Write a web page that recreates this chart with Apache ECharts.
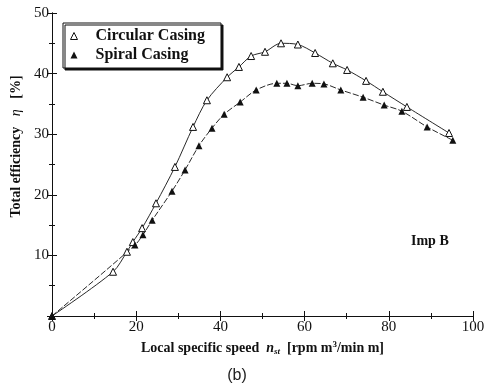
<!DOCTYPE html>
<html>
<head>
<meta charset="utf-8">
<script src="https://cdn.jsdelivr.net/npm/echarts@6/dist/echarts.min.js"></script>
<style>
  html, body { margin: 0; padding: 0; background: #fff; }
  #chart { width: 492px; height: 391px; }
</style>
</head>
<body>
<div id="chart"></div>
<script>
// values
const circularX = [0, 14.5, 17.8, 19.2, 21.4, 24.7, 29.2, 33.5, 36.8, 41.6, 44.4, 47.3, 50.6, 54.4, 58.4, 62.5, 66.7, 70.1, 74.6, 78.6, 84.3, 94.3];
const circularY = [0, 7.3, 10.6, 12.2, 14.5, 18.6, 24.6, 31.2, 35.6, 39.4, 41.1, 42.9, 43.6, 45.0, 44.8, 43.4, 41.7, 40.6, 38.8, 37.0, 34.5, 30.2];
const spiralX = [0, 19.7, 21.6, 23.8, 28.5, 31.6, 34.9, 38.0, 40.9, 44.7, 48.5, 53.4, 55.8, 58.4, 61.8, 64.6, 68.6, 73.9, 78.9, 83.1, 89.1, 95.2];
const spiralY = [0, 11.7, 13.4, 15.8, 20.6, 24.1, 28.1, 31.0, 33.3, 35.3, 37.3, 38.4, 38.4, 38.0, 38.4, 38.3, 37.3, 36.1, 34.8, 33.8, 31.2, 29.0];
const xTicks = [0, 20, 40, 60, 80, 100];
const yTicks = [0, 10, 20, 30, 40, 50];

const SERIF = '"Liberation Serif", "DejaVu Serif", serif';
const INK = '#111';

const pairs = (xs, ys) => xs.map((x, i) => [x, ys[i]]);

const frameAxis = {
  min: 0,
  axisLine: { show: true, lineStyle: { color: INK, width: 1 } },
  axisTick: { show: true, inside: true, length: 5, lineStyle: { color: INK } },
  minorTick: { show: true, splitNumber: 2, length: 3, lineStyle: { color: INK } },
  splitLine: { show: false },
};

const chart = echarts.init(document.getElementById('chart'));
chart.setOption({
  animation: false,
  backgroundColor: '#fff',
  title: [
    {
      text: '(b)',
      left: 232,
      top: 363,
      textAlign: 'center',
      textStyle: { fontFamily: '"Liberation Sans", Arial, sans-serif', fontWeight: 'normal', fontSize: 16, color: '#222' },
    },
    {
      text: 'Imp B',
      left: 406,
      top: 229,
      textStyle: { fontFamily: SERIF, fontWeight: 'bold', fontSize: 14, color: INK },
    },
  ],
  grid: { left: 52, right: 19, top: 13, bottom: 75 },
  legend: {
    orient: 'vertical',
    left: 63,
    top: 23,
    padding: [5, 16, 5, 7],
    itemGap: 3,
    itemWidth: 7,
    itemHeight: 7,
    icon: 'triangle',
    backgroundColor: '#fff',
    borderColor: INK,
    borderWidth: 1,
    borderRadius: 0,
    shadowColor: INK,
    shadowBlur: 0,
    shadowOffsetX: 2,
    shadowOffsetY: 2,
    textStyle: { fontFamily: SERIF, fontWeight: 'bold', fontSize: 16, color: INK, padding: [0, 0, 0, 13] },
    data: [
      { name: 'Circular Casing', itemStyle: { color: '#fff', borderColor: INK, borderWidth: 1 } },
      { name: 'Spiral Casing', itemStyle: { color: INK, borderWidth: 0 } },
    ],
  },
  xAxis: [
    {
      ...frameAxis,
      type: 'value',
      max: 100,
      interval: 20,
      position: 'bottom',
      axisLabel: {
        fontFamily: SERIF, fontSize: 15, color: INK, margin: 4,
        formatter: (v) => (xTicks.includes(v) ? String(v) : ''),
      },
      name: '{b|Local specific speed  }{i|n}{s|st}{b|  [rpm m}{sup|3}{b|/min m]}',
      nameLocation: 'middle',
      nameGap: 23,
      nameTextStyle: {
        rich: {
          b: { fontFamily: SERIF, fontWeight: 'bold', fontSize: 14, color: INK },
          i: { fontFamily: SERIF, fontWeight: 'bold', fontStyle: 'italic', fontSize: 14, color: INK },
          s: { fontFamily: SERIF, fontWeight: 'bold', fontStyle: 'italic', fontSize: 9, color: INK, verticalAlign: 'bottom', padding: [6, 0, 0, 0] },
          sup: { fontFamily: SERIF, fontWeight: 'bold', fontSize: 9, color: INK, padding: [0, 0, 7, 0] },
        },
      },
    },
    {
      ...frameAxis,
      type: 'value',
      max: 100,
      interval: 20,
      position: 'top',
      axisLabel: { show: false },
    },
  ],
  yAxis: [
    {
      ...frameAxis,
      type: 'value',
      max: 50,
      interval: 10,
      position: 'left',
      axisLabel: {
        fontFamily: SERIF, fontSize: 15, color: INK, margin: 3,
        showMinLabel: false,
        formatter: (v) => (yTicks.includes(v) ? String(v) : ''),
      },
      name: '{b|Total efficiency   }{i|η}{b|   [%]}',
      nameLocation: 'middle',
      nameRotate: 90,
      nameGap: 28,
      nameTextStyle: {
        padding: [0, 0, 0, 36],
        rich: {
          b: { fontFamily: SERIF, fontWeight: 'bold', fontSize: 14, color: INK },
          i: { fontFamily: SERIF, fontStyle: 'italic', fontSize: 14, color: INK },
        },
      },
    },
    {
      ...frameAxis,
      type: 'value',
      max: 50,
      interval: 10,
      position: 'right',
      axisLabel: { show: false },
    },
  ],
  series: [
    {
      name: 'Circular Casing',
      type: 'line',
      data: pairs(circularX, circularY),
      smooth: 0.3,
      symbol: 'triangle',
      symbolSize: 7,
      lineStyle: { color: INK, width: 0.9 },
      itemStyle: { color: '#fff', borderColor: INK, borderWidth: 1 },
      z: 3,
    },
    {
      name: 'Spiral Casing',
      type: 'line',
      data: pairs(spiralX, spiralY),
      smooth: 0.3,
      symbol: 'triangle',
      symbolSize: 7,
      lineStyle: { color: INK, width: 0.9, type: [6, 2] },
      itemStyle: { color: INK, borderWidth: 0 },
      z: 3,
    },
  ],
});
</script>
</body>
</html>
